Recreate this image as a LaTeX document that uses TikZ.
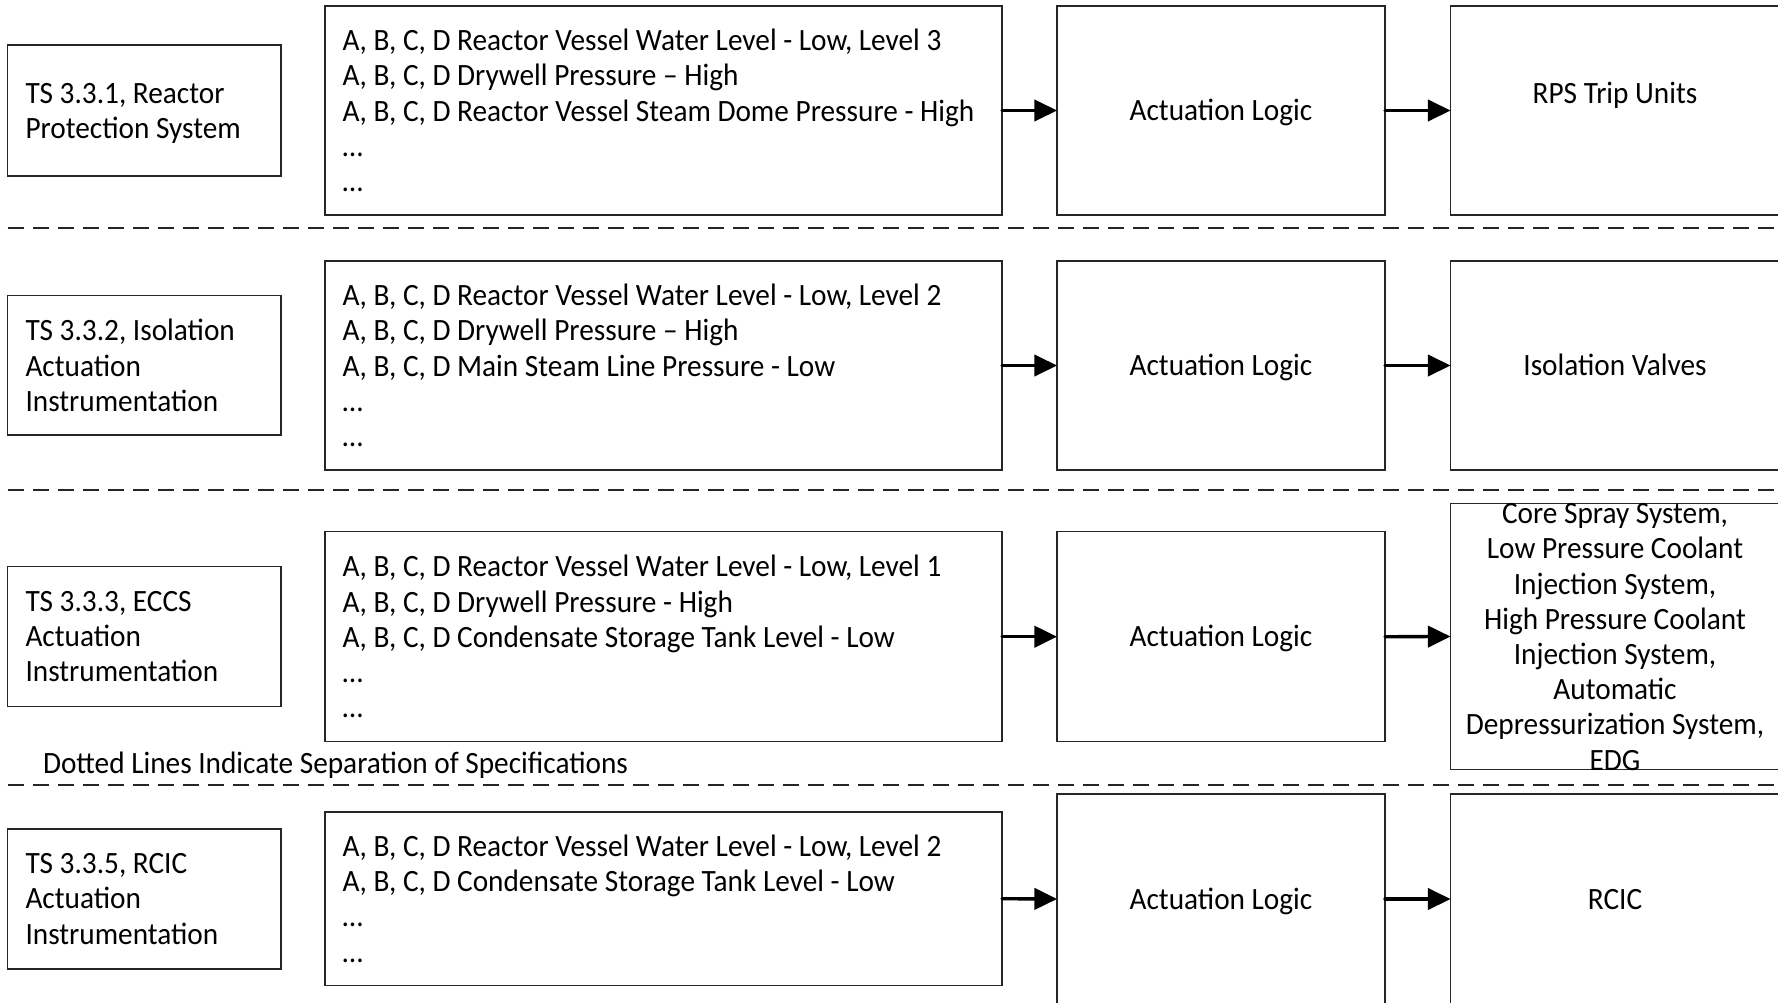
\documentclass[tikz,border=0pt]{standalone}
\usepackage{fontspec}
\setmainfont[FakeStretch=0.945]{Carlito}
\usetikzlibrary{fit,arrows.meta}
\lineskiplimit=-20pt
\begin{document}
\begin{tikzpicture}[x=0.75pt,y=-0.75pt,
  box/.style={draw=black!85, line width=1pt, inner sep=0pt, outer sep=0pt},
  txt/.style={inner sep=0pt, outer sep=0pt, font=\fontsize{23.25}{26.4}\selectfont},
  ltxt/.style={txt, align=left, anchor=west},
  ctxt/.style={txt, align=center},
  btxt/.style={txt, anchor=base},
  sepline/.style={draw=black!85, line width=1.5pt, dash pattern=on 12.5pt off 6.25pt},
  arr/.style={line width=2.5pt, line cap=round, -{Triangle[length=17pt,width=16pt]}}
]
\useasboundingbox (0,0) rectangle (1778,1003);
\clip (0,0) rectangle (1778,1003);
\fill[white] (0,0) rectangle (1778,1003);

% separators
\draw[sepline] (7.5,228) -- (1790,228);
\draw[sepline] (7.5,489.5) -- (1790,489.5);
\draw[sepline] (7.5,785) -- (1790,785);

% Row 1
\node[box, fit={(7.5,45)(281,176)}] (l1) {};
\node[ltxt] (l1t) at (25.5,113.5) {TS 3.3.1, Reactor\\Protection System};
\node[box, fit={(325,6)(1002,215)}] (m1) {};
\node[ltxt] (m1t) at (342.5,110.5) {A, B, C, D Reactor Vessel Water Level - Low, Level 3\\A, B, C, D Drywell Pressure – High\\A, B, C, D Reactor Vessel Steam Dome Pressure - High\\…\\…};
\node[box, fit={(1057,6)(1385,215)}] (a1) {};
\node[btxt, yshift=-7.5pt] (a1t) at (a1.center) {Actuation Logic};
\node[box, fit={(1450.5,6)(1782,215)}] (r1) {};
\node[btxt] (r1t) at (1615,103) {RPS Trip Units};
\draw[arr] (m1.east) -- (a1.west);
\draw[arr] (a1.east) -- (r1.west);

% Row 2
\node[box, fit={(7.5,295.7)(281,435)}] (l2) {};
\node[ltxt] (l2t) at (25.5,365.4) {TS 3.3.2, Isolation\\Actuation\\Instrumentation};
\node[box, fit={(325,261)(1002,470)}] (m2) {};
\node[ltxt] (m2t) at (342.5,365.5) {A, B, C, D Reactor Vessel Water Level - Low, Level 2\\A, B, C, D Drywell Pressure – High\\A, B, C, D Main Steam Line Pressure - Low\\…\\…};
\node[box, fit={(1057,261)(1385,470)}] (a2) {};
\node[btxt, yshift=-7.5pt] (a2t) at (a2.center) {Actuation Logic};
\node[box, fit={(1450.5,261)(1782,470)}] (r2) {};
\node[btxt] (r2t) at (1615,375.5) {Isolation Valves};
\draw[arr] (m2.east) -- (a2.west);
\draw[arr] (a2.east) -- (r2.west);

% Row 3
\node[box, fit={(7.5,566.7)(281,706.7)}] (l3) {};
\node[ltxt] (l3t) at (25.5,636.7) {TS 3.3.3, ECCS\\Actuation\\Instrumentation};
\node[box, fit={(325,531.7)(1002,741.7)}] (m3) {};
\node[ltxt] (m3t) at (342.5,636.7) {A, B, C, D Reactor Vessel Water Level - Low, Level 1\\A, B, C, D Drywell Pressure - High\\A, B, C, D Condensate Storage Tank Level - Low\\…\\…};
\node[box, fit={(1057,531.7)(1385,741.7)}] (a3) {};
\node[btxt, yshift=-7.5pt] (a3t) at (a3.center) {Actuation Logic};
\node[box, fit={(1450.5,503.7)(1782,769.3)}] (r3) {};
\node[ctxt] (r3t) at (1615,637) {Core Spray System,\\Low Pressure Coolant\\Injection System,\\High Pressure Coolant\\Injection System,\\Automatic\\Depressurization System,\\EDG};
\draw[arr] (m3.east) -- (a3.west);
\draw[arr] (a3.east) -- (r3.west);

\node[txt, anchor=base west] (note) at (43,773.5) {Dotted Lines Indicate Separation of Specifications};

% Row 4
\node[box, fit={(7.5,829)(281,969)}] (l4) {};
\node[ltxt] (l4t) at (25.5,899) {TS 3.3.5, RCIC\\Actuation\\Instrumentation};
\node[box, fit={(325,812)(1002,985.5)}] (m4) {};
\node[ltxt] (m4t) at (342.5,898.7) {A, B, C, D Reactor Vessel Water Level - Low, Level 2\\A, B, C, D Condensate Storage Tank Level - Low\\…\\…};
\node[box, fit={(1057,794)(1385,1004)}] (a4) {};
\node[btxt, yshift=-7.5pt] (a4t) at (a4.center) {Actuation Logic};
\node[box, fit={(1450.5,794)(1782,1004)}] (r4) {};
\node[btxt] (r4t) at (1615,909) {RCIC};
\draw[arr] (m4.east) -- (a4.west);
\draw[arr] (a4.east) -- (r4.west);
\end{tikzpicture}
\end{document}
